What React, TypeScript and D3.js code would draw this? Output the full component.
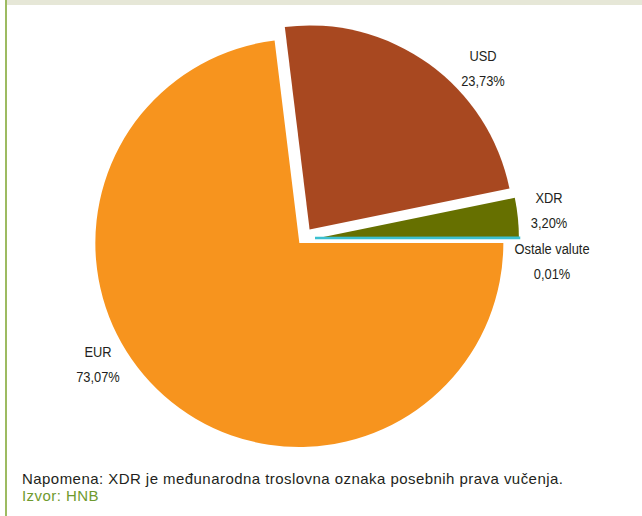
import React from "react";
import * as d3 from "d3";

const categories = ["EUR", "USD", "XDR", "Ostale valute"];
const values = [73.07, 23.73, 3.2, 0.01];
const valueLabels = ["73,07%", "23,73%", "3,20%", "0,01%"];
const colors = ["#F7941E", "#A84820", "#667000", "#3BC0D0"];
const explode = [4, 13, 13, 13];
const labelPos: [number, number][] = [
  [98, 357],
  [483, 61],
  [549, 203],
  [552, 254],
];
const note = "Napomena: XDR je međunarodna troslovna oznaka posebnih prava vučenja.";
const source = "Izvor: HNB";

const W = 642;
const H = 516;
const cx = 302;
const cy = 240;
const R = 204;

export default function App() {
  const pie = d3
    .pie<number>()
    .sort(null)
    .value((d) => d)
    .startAngle(Math.PI / 2)
    .endAngle(Math.PI / 2 + 2 * Math.PI);
  const arcs = pie(values);
  const arc = d3.arc<d3.PieArcDatum<number>>().innerRadius(0).outerRadius(R);
  const labelFont = "'Liberation Sans', Arial, sans-serif";

  return (
    <svg
      width={W}
      height={H}
      style={{ position: "absolute", left: 0, top: 0, background: "#fff" }}
    >
      <rect x={0} y={0} width={W} height={H} fill="#fff" />
      <rect x={7} y={0} width={W - 7} height={5} fill="#E6E7D7" />
      <rect x={5} y={0} width={2} height={H} fill="#9DBB61" />
      <g transform={`translate(${cx},${cy})`}>
        {arcs.map((a, i) => {
          const mid = (a.startAngle + a.endAngle) / 2;
          const dx = Math.sin(mid) * explode[i];
          const dy = -Math.cos(mid) * explode[i];
          const tiny = a.endAngle - a.startAngle < 0.01;
          return (
            <path
              key={categories[i]}
              d={arc(a) || ""}
              transform={`translate(${dx},${dy - (tiny ? 2 : 0)})`}
              fill={colors[i]}
              stroke={tiny ? colors[i] : "none"}
              strokeWidth={tiny ? 2.5 : 0}
            />
          );
        })}
      </g>
      {categories.map((c, i) => (
        <g
          key={c}
          transform={`translate(${labelPos[i][0]},${labelPos[i][1]}) scale(0.83,1)`}
        >
          <text
            x={0}
            y={0}
            textAnchor="middle"
            fontFamily={labelFont}
            fontSize={15.5}
            fill="#231F20"
          >
            <tspan x={0}>{c}</tspan>
            <tspan x={0} dy={25}>
              {valueLabels[i]}
            </tspan>
          </text>
        </g>
      ))}
      <text
        x={22}
        y={484}
        fontFamily="'Liberation Sans', Arial, sans-serif"
        fontSize={15}
        letterSpacing={0.45}
        fill="#231F20"
      >
        {note}
      </text>
      <text
        x={22}
        y={501}
        fontFamily="'Liberation Sans', Arial, sans-serif"
        fontSize={15}
        letterSpacing={0.45}
        fill="#6F9A2E"
      >
        {source}
      </text>
    </svg>
  );
}
